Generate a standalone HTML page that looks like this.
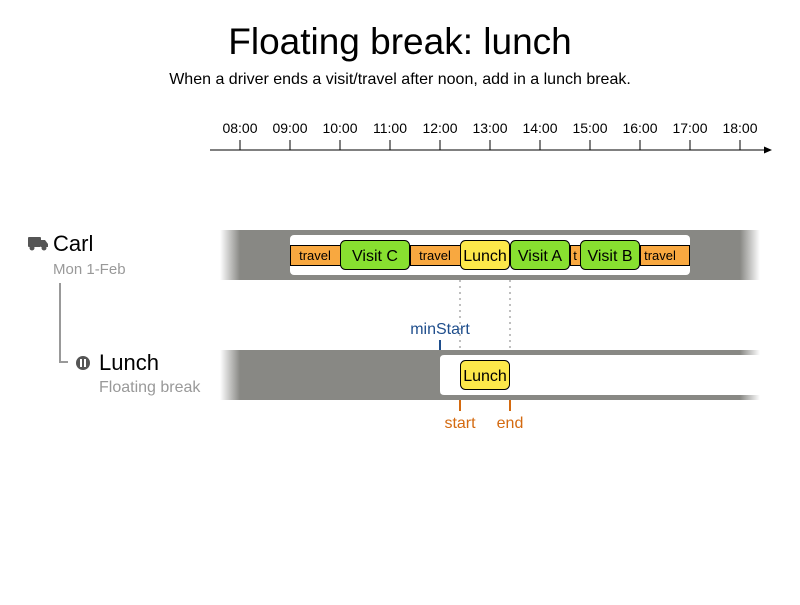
<!DOCTYPE html>
<html><head><style>
body{margin:0;width:800px;height:600px;background:#fff;overflow:hidden}
svg text{font-family:"Liberation Sans",Arial,sans-serif}
</style></head><body>
<svg width="800" height="600" xmlns="http://www.w3.org/2000/svg">
<defs>
<linearGradient id="gl" x1="0" x2="1"><stop offset="0" stop-color="#888884" stop-opacity="0"/><stop offset="1" stop-color="#888884"/></linearGradient>
<linearGradient id="gr" x1="0" x2="1"><stop offset="0" stop-color="#888884"/><stop offset="1" stop-color="#888884" stop-opacity="0"/></linearGradient>
</defs>
<text x="400" y="54" font-size="37" text-anchor="middle" fill="#000">Floating break: lunch</text>
<text x="400" y="84" font-size="16" text-anchor="middle" fill="#000">When a driver ends a visit/travel after noon, add in a lunch break.</text>
<line x1="210" y1="150" x2="766" y2="150" stroke="#000" stroke-width="1"/>
<polygon points="772,150 764,146.5 764,153.5" fill="#000"/>
<g font-size="14" text-anchor="middle" fill="#000">
<text x="240" y="133">08:00</text><text x="290" y="133">09:00</text><text x="340" y="133">10:00</text><text x="390" y="133">11:00</text><text x="440" y="133">12:00</text><text x="490" y="133">13:00</text><text x="540" y="133">14:00</text><text x="590" y="133">15:00</text><text x="640" y="133">16:00</text><text x="690" y="133">17:00</text><text x="740" y="133">18:00</text>
</g>
<g stroke="#000"><line x1="240" y1="140" x2="240" y2="150"/><line x1="290" y1="140" x2="290" y2="150"/><line x1="340" y1="140" x2="340" y2="150"/><line x1="390" y1="140" x2="390" y2="150"/><line x1="440" y1="140" x2="440" y2="150"/><line x1="490" y1="140" x2="490" y2="150"/><line x1="540" y1="140" x2="540" y2="150"/><line x1="590" y1="140" x2="590" y2="150"/><line x1="640" y1="140" x2="640" y2="150"/><line x1="690" y1="140" x2="690" y2="150"/><line x1="740" y1="140" x2="740" y2="150"/></g>
<rect x="220" y="230" width="20" height="50" fill="url(#gl)"/>
<rect x="240" y="230" width="500" height="50" fill="#888884"/>
<rect x="740" y="230" width="20" height="50" fill="url(#gr)"/>
<rect x="290" y="235" width="400" height="40" rx="4" fill="#fff"/>
<g stroke="#000" stroke-width="1">
<rect x="290.5" y="245.5" width="50" height="20" fill="#f8a840"/>
<rect x="410.5" y="245.5" width="50" height="20" fill="#f8a840"/>
<rect x="570.5" y="245.5" width="10" height="20" fill="#f8a840"/>
<rect x="640.5" y="245.5" width="49" height="20" fill="#f8a840"/>
<rect x="340.5" y="240.5" width="69" height="29" rx="5" fill="#88e030"/>
<rect x="460.5" y="240.5" width="49" height="29" rx="5" fill="#fde84a"/>
<rect x="510.5" y="240.5" width="59" height="29" rx="5" fill="#88e030"/>
<rect x="580.5" y="240.5" width="59" height="29" rx="5" fill="#88e030"/>
</g>
<g font-size="13" text-anchor="middle" fill="#000">
<text x="315" y="260">travel</text><text x="435" y="260">travel</text><text x="575" y="260">t</text><text x="660" y="260">travel</text>
</g>
<g font-size="16" text-anchor="middle" fill="#000">
<text x="375" y="261">Visit C</text><text x="485" y="261">Lunch</text><text x="540" y="261">Visit A</text><text x="610" y="261">Visit B</text>
</g>
<g stroke="#aaa" stroke-width="1.5" stroke-dasharray="2,4"><line x1="460" y1="280" x2="460" y2="350"/><line x1="510" y1="280" x2="510" y2="350"/></g>
<rect x="220" y="350" width="20" height="50" fill="url(#gl)"/>
<rect x="240" y="350" width="500" height="50" fill="#888884"/>
<rect x="740" y="350" width="20" height="50" fill="url(#gr)"/>
<path d="M444 355 H760 V395 H444 Q440 395 440 391 V359 Q440 355 444 355Z" fill="#fff"/>
<rect x="460.5" y="360.5" width="49" height="29" rx="5" fill="#fde84a" stroke="#000"/>
<text x="485" y="381" font-size="16" text-anchor="middle">Lunch</text>
<line x1="440" y1="340" x2="440" y2="350" stroke="#1f4e8c" stroke-width="2"/>
<text x="440" y="334" font-size="16" text-anchor="middle" fill="#1f4e8c">minStart</text>
<g stroke="#d46a10" stroke-width="2"><line x1="460" y1="400" x2="460" y2="411"/><line x1="510" y1="400" x2="510" y2="411"/></g>
<g font-size="16" text-anchor="middle" fill="#d46a10"><text x="460" y="428">start</text><text x="510" y="428">end</text></g>
<g fill="#555"><rect x="28" y="237" width="13" height="10" rx="1"/><path d="M41 240 H45 L48 244 V247 H41Z"/><circle cx="32" cy="248" r="2.5"/><circle cx="44" cy="248" r="2.5"/></g>
<text x="53" y="251" font-size="22" fill="#000">Carl</text>
<text x="53" y="274" font-size="15" fill="#999">Mon 1-Feb</text>
<path d="M60 283 V362 H68" stroke="#999" stroke-width="2" fill="none"/>
<circle cx="83" cy="363" r="7" fill="#555"/>
<rect x="80" y="359" width="2" height="8" fill="#fff"/><rect x="84" y="359" width="2" height="8" fill="#fff"/>
<text x="99" y="370" font-size="22" fill="#000">Lunch</text>
<text x="99" y="392" font-size="16" fill="#999">Floating break</text>
</svg>
</body></html>
